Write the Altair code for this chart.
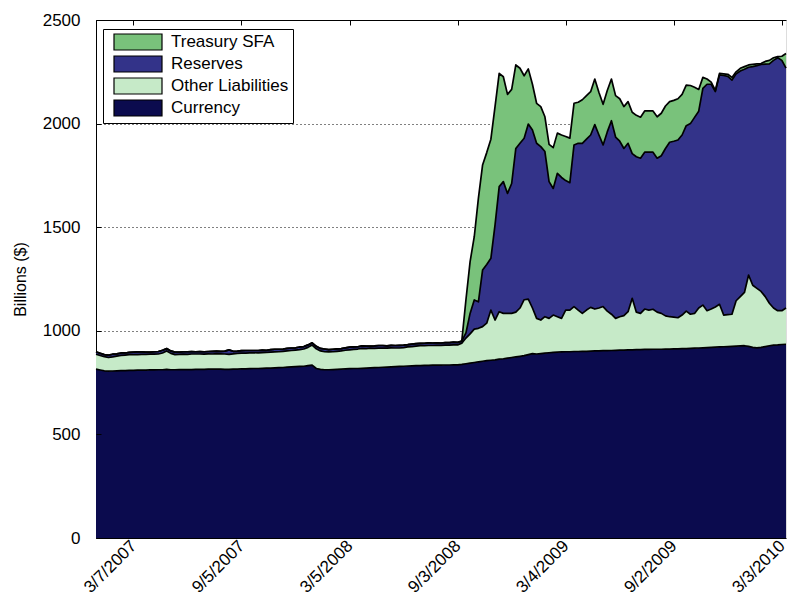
import altair as alt
import pandas as pd

# ---------------- data (weekly, billions of $) ----------------
series_order = ["Currency", "Other Liabilities", "Reserves", "Treasury SFA"]  # bottom -> top
legend_order = ["Treasury SFA", "Reserves", "Other Liabilities", "Currency"]
legend_colors = ["#79c27b", "#333389", "#c6eac8", "#0b0b4e"]

first_week = "2007-01-03"
tick_dates = [(2007, 3, 7), (2007, 9, 5), (2008, 3, 5), (2008, 9, 3),
              (2009, 3, 4), (2009, 9, 2), (2010, 3, 3)]
y_ticks = [0, 500, 1000, 1500, 2000, 2500]

currency = [
    815, 811, 807, 805, 806, 807, 808, 808, 809, 809,
    810, 810, 810, 811, 811, 812, 812, 814, 812, 812,
    813, 813, 813, 813, 814, 814, 814, 815, 815, 815,
    815, 814, 814, 815, 815, 816, 816, 817, 818, 818,
    819, 820, 820, 821, 822, 823, 825, 826, 827, 828,
    829, 832, 834, 818, 814, 812, 812, 813, 814, 815,
    816, 817, 818, 818, 819, 820, 821, 822, 823, 824,
    825, 826, 827, 828, 829, 830, 831, 832, 832, 833,
    833, 834, 834, 834, 835, 835, 836, 836,
    838, 841, 844, 847, 850, 853, 856, 858, 860, 863,
    865, 868, 871, 874, 877, 880, 885, 890, 888, 890,
    892, 894, 896, 897, 898, 899, 899, 900, 900, 901,
    901, 902, 903, 903, 904, 904, 905, 906, 907, 907,
    908, 908, 909, 909, 910, 910, 911, 911, 911, 912,
    912, 913, 913, 914, 914, 915, 916, 917, 918, 919,
    920, 921, 922, 923, 924, 925, 926, 927, 928, 925,
    920, 918, 920, 924, 928, 931, 932, 934, 935,
]

other_liabilities = [
    72, 70, 68, 66, 68, 71, 73, 75, 76, 76,
    75, 76, 76, 76, 76, 76, 81, 89, 79, 73,
    73, 74, 73, 75, 74, 74, 73, 74, 73, 75,
    74, 74, 72, 74, 76, 76, 76, 76, 76, 75,
    76, 76, 77, 77, 77, 78, 78, 79, 80, 81,
    83, 88, 97, 95, 89, 87, 86, 86, 87, 88,
    90, 91, 92, 94, 96, 94, 95, 93, 93, 93,
    91, 92, 90, 89, 90, 92, 93, 94, 96, 95,
    96, 95, 96, 96, 96, 96, 96, 96,
    102, 124, 141, 161, 162, 167, 181, 242, 192, 229,
    219, 216, 213, 216, 233, 270, 268, 220, 172, 162,
    176, 166, 180, 171, 162, 201, 201, 217, 200, 183,
    199, 211, 202, 207, 213, 191, 175, 154, 161, 166,
    184, 249, 181, 175, 195, 190, 193, 179, 173, 160,
    156, 153, 150, 162, 181, 165, 168, 193, 206, 178,
    185, 194, 206, 153, 154, 155, 219, 238, 257, 344,
    300, 287, 270, 241, 205, 179, 165, 163, 175,
]

reserves = [
    12, 11, 10, 12, 13, 11, 12, 10, 11, 12,
    13, 12, 11, 10, 12, 12, 13, 11, 12, 12,
    11, 12, 13, 12, 11, 12, 12, 11, 13, 12,
    12, 14, 22, 12, 11, 12, 13, 12, 11, 12,
    12, 10, 12, 13, 12, 11, 12, 12, 11, 13,
    12, 12, 11, 12, 12, 13, 11, 12, 12, 11,
    12, 13, 12, 11, 12, 12, 10, 12, 13, 12,
    11, 12, 12, 13, 12, 11, 12, 12, 11, 12,
    13, 12, 12, 11, 12, 12, 13, 12,
    10, 25, 99, 141, 128, 273, 283, 250, 459, 604,
    636, 579, 627, 790, 795, 779, 845, 859, 845, 837,
    797, 660, 611, 692, 680, 625, 615, 780, 805, 821,
    825, 832, 890, 835, 780, 865, 934, 875, 847, 807,
    813, 698, 750, 749, 757, 762, 758, 743, 761, 808,
    842, 849, 858, 869, 895, 920, 946, 950, 1046, 1093,
    1085, 1040, 1107, 1156, 1150, 1130, 1095, 1089, 1077, 1003,
    1055, 1075, 1096, 1122, 1155, 1195, 1221, 1208, 1158,
]

treasury_sfa = [
    0, 0, 0, 0, 0, 0, 0, 0, 0, 0,
    0, 0, 0, 0, 0, 0, 0, 0, 0, 0,
    0, 0, 0, 0, 0, 0, 0, 0, 0, 0,
    0, 0, 0, 0, 0, 0, 0, 0, 0, 0,
    0, 0, 0, 0, 0, 0, 0, 0, 0, 0,
    0, 0, 0, 0, 0, 0, 0, 0, 0, 0,
    0, 0, 0, 0, 0, 0, 0, 0, 0, 0,
    0, 0, 0, 0, 0, 0, 0, 0, 0, 0,
    0, 0, 0, 0, 0, 0, 0, 0,
    0, 160, 250, 305, 500, 507, 540, 575, 571, 546,
    506, 478, 454, 403, 362, 302, 266, 221, 193, 193,
    168, 180, 197, 194, 205, 213, 215, 201, 198, 210,
    210, 209, 220, 205, 196, 200, 201, 200, 205, 202,
    201, 200, 200, 198, 199, 199, 199, 200, 205, 205,
    196, 197, 199, 196, 196, 184, 145, 105, 53, 25,
    10, 5, 7, 8, 10, 13, 10, 13, 13, 11,
    11, 8, 4, 13, 17, 13, 5, 20, 70,
]

all_series = [currency, other_liabilities, reserves, treasury_sfa]
n = len(currency)
for s in all_series:
    assert len(s) == n, [len(t) for t in all_series]

dates = pd.date_range(first_week, periods=n, freq="7D")
rows = []
for k, (name, vals) in enumerate(zip(series_order, all_series)):
    for d, v in zip(dates, vals):
        rows.append({"date": d.strftime("%Y-%m-%dT00:00:00"),
                     "series": name, "ord": k, "value": v})
df = pd.DataFrame(rows)

# ---------------- chart ----------------
W, H = 690, 518
FONT = "Liberation Sans"

tick_values = [alt.DateTime(year=y, month=m, date=d) for (y, m, d) in tick_dates]
x_scale = alt.Scale(domain=[alt.DateTime(year=2007, month=1, date=3),
                            alt.DateTime(year=2010, month=3, date=10)])
y_scale = alt.Scale(domain=[0, 2500], nice=False)

base = alt.Chart(df).transform_stack(
    stack="value", groupby=["date"], as_=["y0", "y1"],
    sort=[alt.SortField("ord", order="ascending")],
)

x_axis_main = alt.Axis(
    values=tick_values, format="%-m/%-d/%Y", labelAngle=315,
    labelAlign="right", labelBaseline="middle", labelPadding=5,
    labelFont=FONT, labelFontSize=17, labelColor="black",
    ticks=False, tickSize=0, domain=True, domainColor="black",
    grid=False, title=None, zindex=0,
)
y_axis_main = alt.Axis(
    values=y_ticks, format="d", title="Billions ($)", titleFont=FONT,
    titleFontSize=16, titleFontWeight="normal", titleColor="black",
    titlePadding=14, labelFont=FONT, labelFontSize=17, labelColor="black",
    labelPadding=16, ticks=False, tickSize=0, domain=True,
    domainColor="black", grid=True, gridColor="black", gridDash=[1, 3],
    gridWidth=1, zindex=0,
)

legend = alt.Legend(
    title=None, orient="none", legendX=7, legendY=9,
    fillColor="white", strokeColor="black", padding=4, rowPadding=0,
    symbolType="M-3,-1H3V1H-3Z", symbolSize=256, symbolOffset=22,
    symbolStrokeColor="black", symbolStrokeWidth=1.2, symbolOpacity=1,
    labelFont=FONT, labelFontSize=17, labelColor="black", labelOffset=24,
    labelLimit=0,
)

area = base.mark_area(interpolate="linear", opacity=1).encode(
    x=alt.X("date:T", scale=x_scale, axis=x_axis_main),
    y=alt.Y("y1:Q", scale=y_scale, axis=y_axis_main),
    y2="y0:Q",
    color=alt.Color("series:N",
                    scale=alt.Scale(domain=legend_order, range=legend_colors),
                    legend=legend),
)

x_axis_top = alt.Axis(
    orient="bottom", offset=-H, values=tick_values, labels=False,
    ticks=True, tickSize=5, tickColor="black", domain=True,
    domainColor="black", grid=False, title=None, zindex=1,
)
y_axis_inner = alt.Axis(
    orient="right", offset=-W, values=y_ticks, labels=False,
    ticks=True, tickSize=5, tickColor="black", domain=False,
    grid=False, title=None, zindex=1,
)

lines = base.mark_line(color="black", strokeWidth=1.7, strokeJoin="round").encode(
    x=alt.X("date:T", scale=x_scale, axis=x_axis_top),
    y=alt.Y("y1:Q", scale=y_scale, axis=y_axis_inner),
    detail="series:N",
)

chart = alt.layer(area, lines).resolve_axis(
    x="independent", y="independent"
).properties(
    width=W, height=H,
    padding={"left": 88, "top": 12, "right": 3, "bottom": 59},
    autosize=alt.AutoSizeParams(type="none"),
).configure_view(stroke=None).configure(font=FONT)

chart.save("out.html", embed_options={"renderer": "svg", "actions": False})
